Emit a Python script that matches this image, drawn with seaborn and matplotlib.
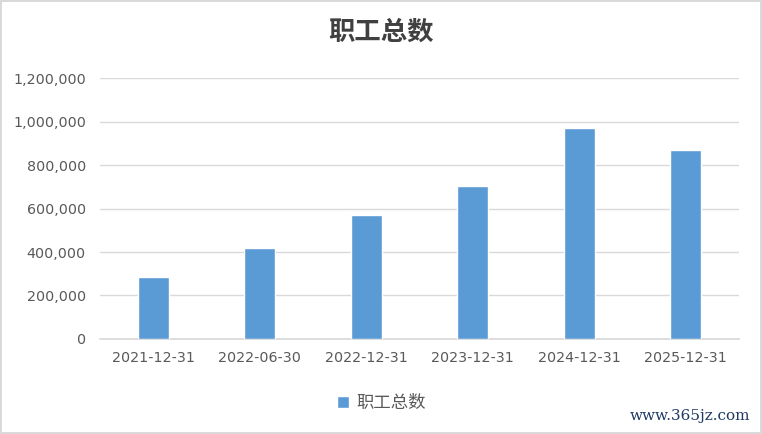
import matplotlib
matplotlib.use('Agg')
import matplotlib.pyplot as plt
import seaborn as sns
import pandas as pd

dates = ['2021-12-31', '2022-06-30', '2022-12-31', '2023-12-31', '2024-12-31', '2025-12-31']
staff = [286000, 419000, 570000, 703000, 969000, 868000]
series_name = '职工总数'

df = pd.DataFrame({'date': dates, 'staff': staff})

sns.set_theme(style='white')
plt.rcParams['font.family'] = ['Noto Sans CJK SC', 'DejaVu Sans']

fig = plt.figure(figsize=(7.62, 4.34), dpi=100)
fig.patch.set_edgecolor('#D9D9D9')
fig.patch.set_linewidth(1.5)
ax = fig.add_axes([0.131, 0.219, 0.839, 0.601])

sns.barplot(data=df, x='date', y='staff', color='#5B9BD5', width=0.29,
            saturation=1, label=series_name, ax=ax, zorder=3)

ax.set_ylim(0, 1200000)
ax.set_yticks(range(0, 1200001, 200000))
ax.set_yticklabels([f'{v:,}' for v in range(0, 1200001, 200000)])
ax.grid(axis='y', color='#D9D9D9', linewidth=1, zorder=0)
for s in ['top', 'right', 'left']:
    ax.spines[s].set_visible(False)
ax.spines['bottom'].set_color('#D9D9D9')
ax.tick_params(axis='both', length=0, labelcolor='#595959')
ax.tick_params(axis='y', pad=10)
ax.tick_params(axis='x', pad=9)
for lab in ax.get_xticklabels() + ax.get_yticklabels():
    lab.set_family('DejaVu Sans')
    lab.set_fontsize(10.3)
ax.set_xlabel('')
ax.set_ylabel('')

fig.text(0.5, 0.925, series_name, ha='center', va='center', fontsize=19,
         fontweight='bold', color='#404040')

ax.legend(loc='center', bbox_to_anchor=(0.44, -0.245), frameon=False, fontsize=12.5,
          handlelength=0.7, handleheight=0.7, handletextpad=0.4, labelcolor='#595959')

fig.text(0.985, 0.025, 'www.365jz.com', ha='right', va='bottom', fontsize=11,
         color='#1F3864', family='DejaVu Serif')

fig.savefig('out.png', dpi=100)
